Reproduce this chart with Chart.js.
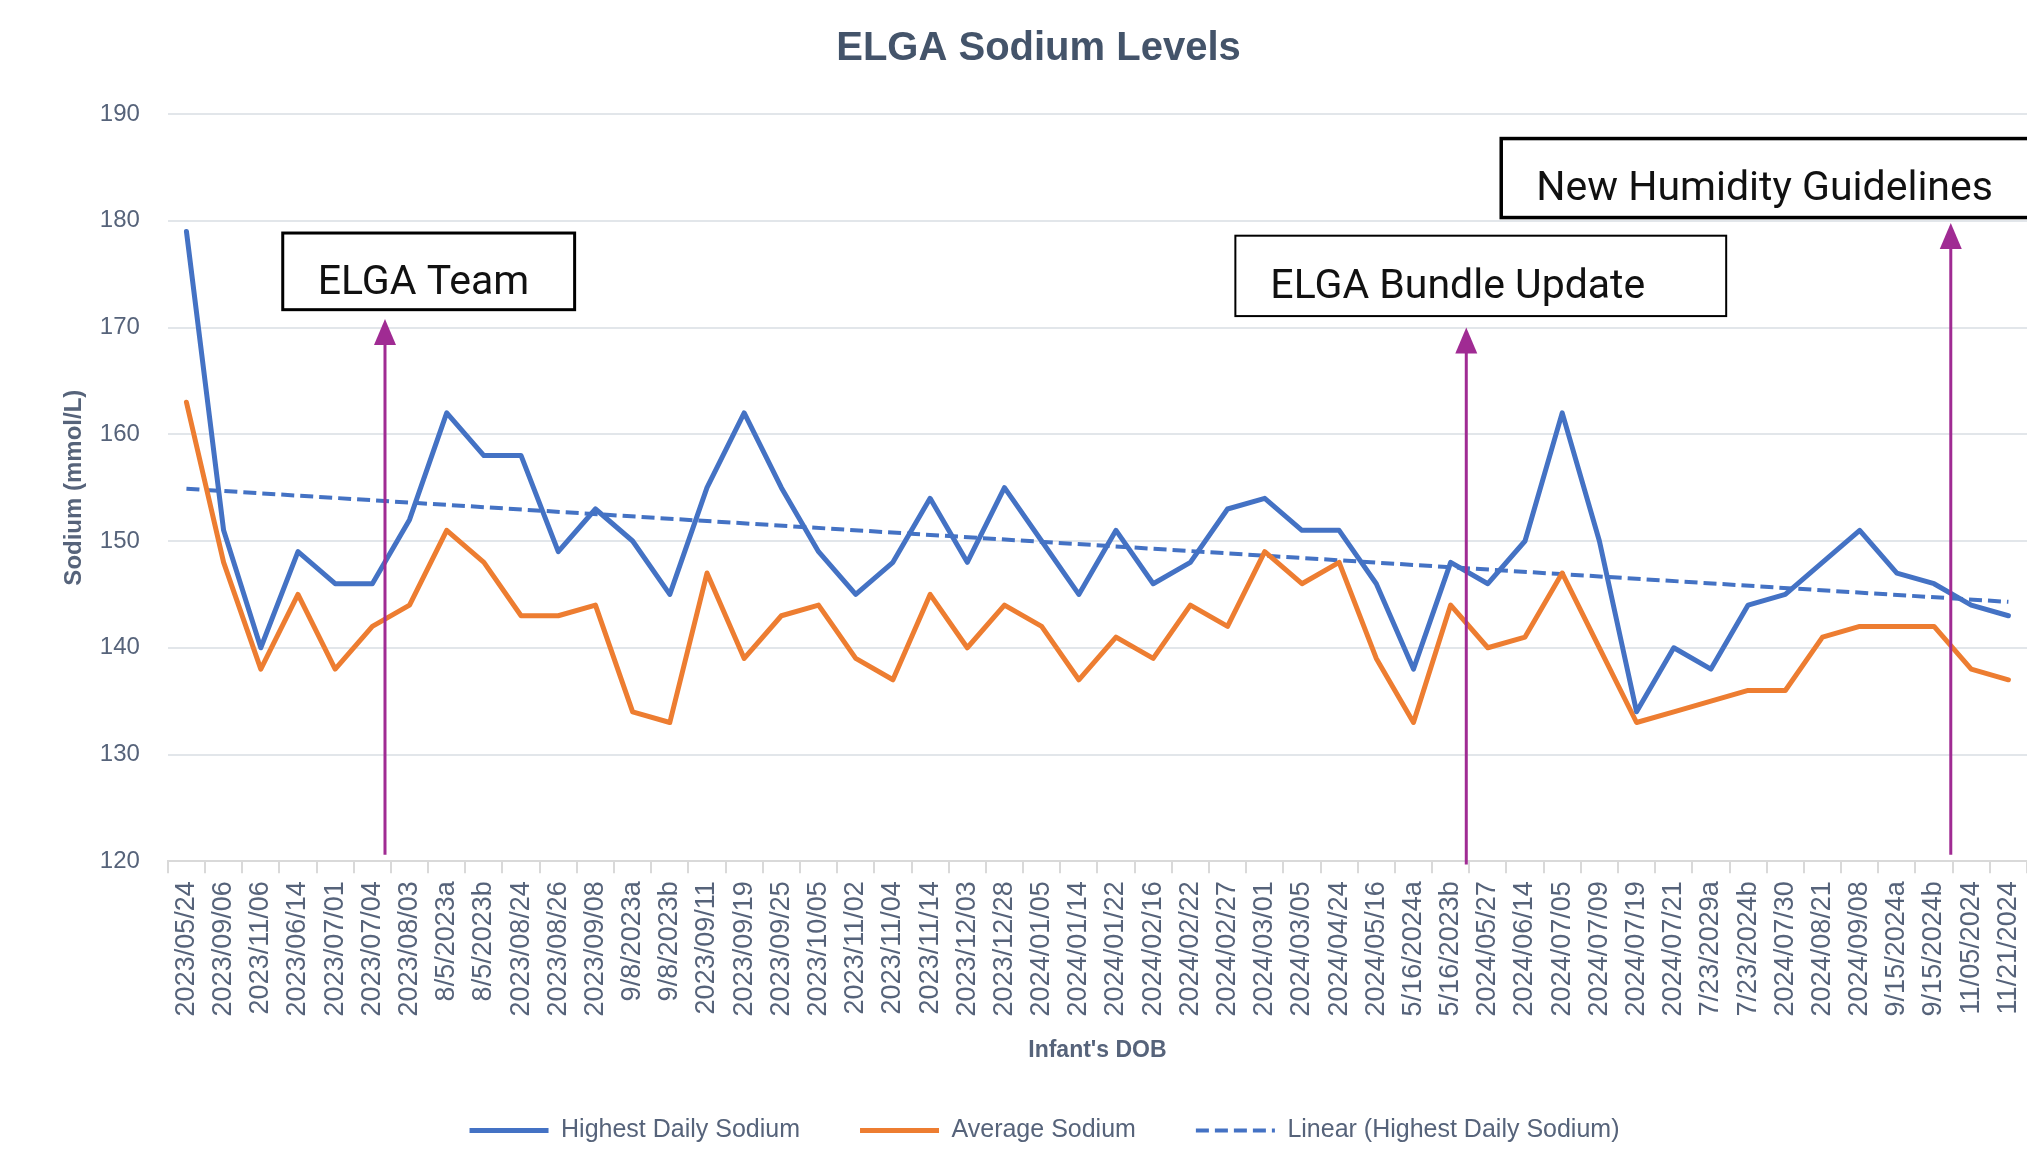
<!DOCTYPE html>
<html>
<head>
<meta charset="utf-8">
<title>ELGA Sodium Levels</title>
<script src="https://cdn.jsdelivr.net/npm/chart.js@4.4.1/dist/chart.umd.min.js"></script>
<style>
  html, body { margin: 0; padding: 0; background: #fff; }
  #wrap { width: 2027px; height: 1153px; }
</style>
</head>
<body>
<div id="wrap"><canvas id="sodiumChart" width="2027" height="1153"></canvas></div>
<script>
const dobLabels = [
  '2023/05/24', '2023/09/06', '2023/11/06', '2023/06/14', '2023/07/01',
  '2023/07/04', '2023/08/03', '8/5/2023a', '8/5/2023b', '2023/08/24',
  '2023/08/26', '2023/09/08', '9/8/2023a', '9/8/2023b', '2023/09/11',
  '2023/09/19', '2023/09/25', '2023/10/05', '2023/11/02', '2023/11/04',
  '2023/11/14', '2023/12/03', '2023/12/28', '2024/01/05', '2024/01/14',
  '2024/01/22', '2024/02/16', '2024/02/22', '2024/02/27', '2024/03/01',
  '2024/03/05', '2024/04/24', '2024/05/16', '5/16/2024a', '5/16/2023b',
  '2024/05/27', '2024/06/14', '2024/07/05', '2024/07/09', '2024/07/19',
  '2024/07/21', '7/23/2029a', '7/23/2024b', '2024/07/30', '2024/08/21',
  '2024/09/08', '9/15/2024a', '9/15/2024b', '11/05/2024', '11/21/2024'
];

const highestSodium = [
  179, 151, 140, 149, 146, 146, 152, 162, 158, 158,
  149, 153, 150, 145, 155, 162, 155, 149, 145, 148,
  154, 148, 155, 150, 145, 151, 146, 148, 153, 154,
  151, 151, 146, 138, 148, 146, 150, 162, 150, 134,
  140, 138, 144, 145, 148, 151, 147, 146, 144, 143
];

const averageSodium = [
  163, 148, 138, 145, 138, 142, 144, 151, 148, 143,
  143, 144, 134, 133, 147, 139, 143, 144, 139, 137,
  145, 140, 144, 142, 137, 141, 139, 144, 142, 149,
  146, 148, 139, 133, 144, 140, 141, 147, 140, 133,
  134, 135, 136, 136, 141, 142, 142, 142, 138, 137
];

// trendline end values (first and last category)
const trendEnds = [154.9, 144.3];

const yMin = 120;
const yMax = 190;
const yStep = 10;

const blue = '#4472c4';
const orange = '#ed7d31';
const purple = '#a02b93';
const axisText = '#56637a';

// callouts: arrow at a category position, box in category/value units
const callouts = [
  { text: 'ELGA Team', at: 5.34, tip: 170.8, base: 120.6, box: [2.59, 10.44, 178.85, 171.67], border: 3 },
  { text: 'ELGA Bundle Update', at: 34.42, tip: 170.0, base: 119.7, box: [28.21, 41.41, 178.6, 171.07], border: 2 },
  { text: 'New Humidity Guidelines', at: 47.45, tip: 179.8, base: 120.6, box: [35.36, 50.6, 187.7, 180.3], border: 3.5 }
];

const calloutPlugin = {
  id: 'callouts',
  afterDatasetsDraw(chart) {
    const { ctx, scales: { x, y } } = chart;
    ctx.save();
    callouts.forEach(c => {
      const px = x.getPixelForValue(c.at);
      const tipY = y.getPixelForValue(c.tip);
      const baseY = y.getPixelForValue(c.base);

      ctx.strokeStyle = purple;
      ctx.lineWidth = 3;
      ctx.beginPath();
      ctx.moveTo(px, baseY);
      ctx.lineTo(px, tipY + 20);
      ctx.stroke();

      ctx.fillStyle = purple;
      ctx.beginPath();
      ctx.moveTo(px, tipY);
      ctx.lineTo(px - 11, tipY + 26);
      ctx.lineTo(px + 11, tipY + 26);
      ctx.closePath();
      ctx.fill();

      const l = x.getPixelForValue(c.box[0]);
      const r = x.getPixelForValue(c.box[1]);
      const t = y.getPixelForValue(c.box[2]);
      const b = y.getPixelForValue(c.box[3]);
      ctx.fillStyle = '#fff';
      ctx.fillRect(l, t, r - l, b - t);
      ctx.lineWidth = c.border;
      ctx.strokeStyle = '#000';
      ctx.strokeRect(l, t, r - l, b - t);

      ctx.fillStyle = '#111';
      ctx.font = '41px Roboto';
      ctx.textBaseline = 'middle';
      ctx.textAlign = 'left';
      ctx.fillText(c.text, l + 35, (t + b) / 2 + 12);
    });
    ctx.restore();
  }
};

// the original chart was cropped on the left, so title and legend sit a bit right of centre
const shiftPlugin = {
  id: 'shift',
  afterLayout(chart) {
    chart.titleBlock.left += 25;
    chart.titleBlock.right += 25;
    chart.legend.left += 31;
    chart.legend.right += 31;
  }
};

Chart.defaults.font.family = "'Liberation Sans', Arial, sans-serif";

const ctx = document.getElementById('sodiumChart').getContext('2d');

new Chart(ctx, {
  type: 'line',
  data: {
    labels: dobLabels,
    datasets: [
      {
        label: 'Highest Daily Sodium',
        data: highestSodium,
        borderColor: blue,
        backgroundColor: blue,
        borderWidth: 5,
        pointRadius: 0,
        tension: 0,
        borderJoinStyle: 'round',
        borderCapStyle: 'round'
      },
      {
        label: 'Average Sodium',
        data: averageSodium,
        borderColor: orange,
        backgroundColor: orange,
        borderWidth: 5,
        pointRadius: 0,
        tension: 0,
        borderJoinStyle: 'round',
        borderCapStyle: 'round'
      },
      {
        label: 'Linear (Highest Daily Sodium)',
        data: [
          { x: dobLabels[0], y: trendEnds[0] },
          { x: dobLabels[dobLabels.length - 1], y: trendEnds[1] }
        ],
        borderColor: blue,
        backgroundColor: blue,
        borderWidth: 4,
        borderDash: [13, 6],
        pointRadius: 0
      }
    ]
  },
  options: {
    responsive: false,
    animation: false,
    devicePixelRatio: 1,
    layout: { padding: { left: 0, right: 0, top: 0, bottom: 0 } },
    plugins: {
      title: {
        display: true,
        text: 'ELGA Sodium Levels',
        color: '#44546a',
        font: { size: 40, weight: 'bold' },
        padding: { top: 25, bottom: 41 }
      },
      legend: {
        position: 'bottom',
        labels: {
          usePointStyle: true,
          pointStyle: 'line',
          pointStyleWidth: 79,
          boxHeight: 25,
          padding: 60,
          color: axisText,
          font: { size: 25 },
          generateLabels(chart) {
            const items = Chart.defaults.plugins.legend.labels.generateLabels(chart);
            items.forEach(item => {
              const ds = chart.data.datasets[item.datasetIndex];
              item.lineDash = ds.borderDash || [];
              item.lineWidth = ds.borderWidth;
              item.strokeStyle = ds.borderColor;
              item.lineCap = 'butt';
            });
            return items;
          }
        }
      },
      tooltip: { enabled: false }
    },
    scales: {
      x: {
        offset: true,
        // the plot runs right to the edge of the picture
        afterFit(scale) {
          scale.paddingRight = 0;
        },
        grid: {
          offset: true,
          drawOnChartArea: false,
          drawTicks: true,
          tickLength: 12,
          color: '#d9d9d9',
          lineWidth: 2
        },
        border: { display: true, color: '#d9d9d9', width: 2 },
        ticks: {
          autoSkip: false,
          maxRotation: 90,
          minRotation: 90,
          padding: 8,
          color: axisText,
          font: { size: 27 }
        },
        title: {
          display: true,
          text: "Infant's DOB",
          color: axisText,
          font: { size: 23, weight: 'bold' },
          padding: { top: 12, bottom: -6 }
        }
      },
      y: {
        min: yMin,
        max: yMax,
        ticks: {
          stepSize: yStep,
          padding: 28,
          color: axisText,
          font: { size: 24 }
        },
        grid: { color: '#e2e6ea', lineWidth: 2, drawTicks: false },
        border: { display: false },
        title: {
          display: true,
          text: 'Sodium (mmol/L)',
          color: axisText,
          font: { size: 24, weight: 'bold' },
          padding: { top: 60, bottom: -17 }
        }
      }
    }
  },
  plugins: [shiftPlugin, calloutPlugin]
});
</script>
</body>
</html>
